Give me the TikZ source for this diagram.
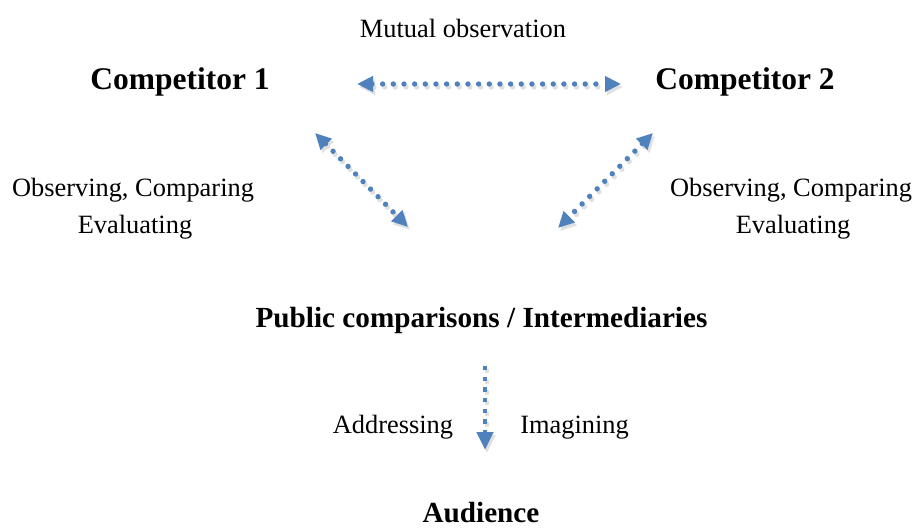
\documentclass[tikz,border=0pt]{standalone}
\usepackage{fontspec}
\setmainfont{Liberation Serif}
\usepackage{tikz}
\usetikzlibrary{arrows.meta}
\definecolor{linkblue}{RGB}{79,129,189}

\begin{document}
\begin{tikzpicture}[
    x=0.5pt,y=-0.5pt,
    heading/.style={font=\fontsize{15.75}{18}\selectfont\bfseries, inner sep=0, anchor=base},
    subheading/.style={font=\fontsize{14.6}{17}\selectfont\bfseries, inner sep=0, anchor=base},
    plain/.style={font=\fontsize{13.2}{16}\selectfont, inner sep=0, anchor=base},
    link/.style={linkblue, line width=2.7pt, line cap=round, dash pattern=on 0pt off 5.33pt,
      {Triangle[length=8pt,width=7.5pt]}-{Triangle[length=8pt,width=7.5pt]}},
    downlink/.style={linkblue, line width=2.3pt, dash pattern=on 2.2pt off 3.13pt,
      -{Triangle[length=9pt,width=8pt]}},
    shadowed/.style={black!12, transform canvas={xshift=1pt,yshift=-1.5pt}}
    ]
    \useasboundingbox (0,0) rectangle (915,529);
    % labels
    \node[plain] (mutual) at (463,37.5) {Mutual observation};
    \node[heading] (comp1) at (180,90) {Competitor 1};
    \node[heading] (comp2) at (745,90) {Competitor 2};
    \node[plain] (obs1) at (133,197) {Observing, Comparing};
    \node[plain] (eval1) at (135,233.5) {Evaluating};
    \node[plain] (obs2) at (791,197) {Observing, Comparing};
    \node[plain] (eval2) at (793,233.5) {Evaluating};
    \node[subheading] (pub) at (481.5,327) {Public comparisons / Intermediaries};
    \node[plain] (addr) at (393,433) {Addressing};
    \node[plain] (imag) at (574.5,433) {Imagining};
    \node[subheading] (aud) at (481,522) {Audience};
    % arrow ends
    \coordinate (h1) at (357,84);
    \coordinate (h2) at (621,84);
    \coordinate (d1a) at (315,133);
    \coordinate (d1b) at (408,227);
    \coordinate (d2a) at (653,133);
    \coordinate (d2b) at (558,228);
    \coordinate (v1) at (485,366);
    \coordinate (v2) at (485,450);
    % shadows first
    \draw[link, shadowed] (h1) -- (h2);
    \draw[link, shadowed] (d1a) -- (d1b);
    \draw[link, shadowed] (d2a) -- (d2b);
    \draw[downlink, shadowed] (v1) -- (v2);
    \draw[link] (h1) -- (h2);
    \draw[link] (d1a) -- (d1b);
    \draw[link] (d2a) -- (d2b);
    \draw[downlink] (v1) -- (v2);
\end{tikzpicture}
\end{document}
